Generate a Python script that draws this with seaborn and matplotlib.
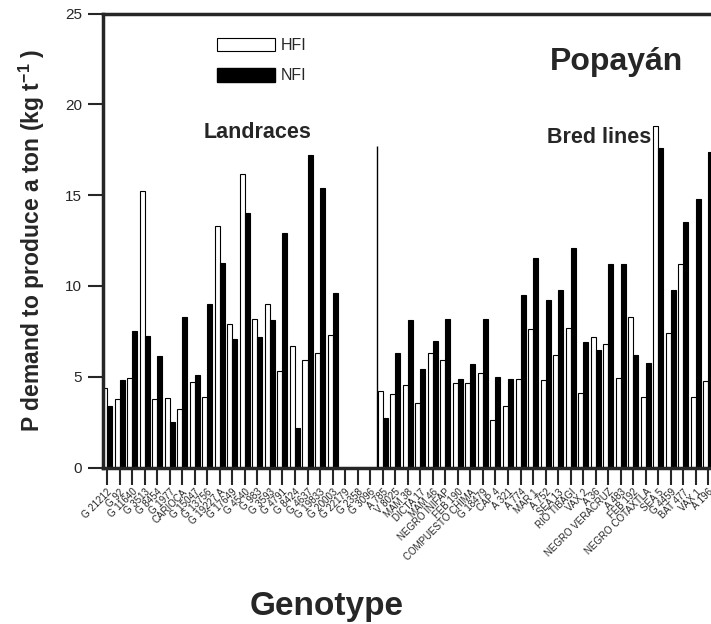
import matplotlib
matplotlib.use("Agg")
import matplotlib.pyplot as plt
from matplotlib.patches import Patch
import pandas as pd
import seaborn as sns

# genotype names, left block landraces, right block bred lines
genotypes = [
    "G 21212", "G 92", "G 11640", "G 3513", "G 8454", "G 1977", "CARIOCA",
    "G 15047", "G 13756", "G 19227 A", "G 17649", "G 4540", "G 983", "G 3593",
    "G 4791", "G 8424", "G 4637", "G 19833", "G 20003", "G 22179", "G 2358",
    "G 3096",
    "A 785", "V 8025", "MAM 38", "DICTA 17", "MAM 46", "NEGRO INIFAP",
    "FEB 190", "COMPUESTO CHIMA", "G 18479", "CAP 4", "A 321", "A 774",
    "MAR 1", "A 752", "SEA 13", "RIO TIBAGI", "VAX 2", "A 36",
    "NEGRO VERACRUZ", "A 483", "FEB 192", "NEGRO COTAXTLA", "SEA 5",
    "G 4459", "BAT 477", "VAX 1", "A 196",
]

hfi = [
    4.4, 3.75, 4.95, 15.2, 3.75, 3.8, 3.2, 4.7, 3.9, 13.3, 7.9, 16.15, 8.2,
    9.0, 5.3, 6.7, 5.9, 6.3, 7.3, 0, 0, 0,
    4.2, 4.05, 4.55, 3.55, 6.3, 5.9, 4.65, 4.65, 5.2, 2.6, 3.4, 4.9, 7.6,
    4.8, 6.2, 7.7, 4.1, 7.2, 6.8, 4.95, 8.3, 3.9, 18.8, 7.4, 11.2, 3.9, 4.75,
]

nfi = [
    3.4, 4.8, 7.5, 7.25, 6.15, 2.5, 8.3, 5.1, 9.0, 11.25, 7.1, 14.0, 7.2,
    8.1, 12.9, 2.2, 17.2, 15.4, 9.6, 0, 0, 0,
    2.7, 6.3, 8.1, 5.45, 6.95, 8.2, 4.9, 5.7, 8.2, 5.0, 4.9, 9.5, 11.55,
    9.2, 9.75, 12.1, 6.9, 6.45, 11.2, 11.2, 6.2, 5.75, 17.6, 9.75, 13.5,
    14.8, 17.4,
]

treatments = ["HFI", "NFI"]
divider_pos = 21.55
divider_top = 17.7

sns.set_theme(style="ticks")
plt.rcParams["font.family"] = ["Liberation Sans", "DejaVu Sans"]
plt.rcParams["mathtext.fontset"] = "custom"
plt.rcParams["mathtext.rm"] = "Liberation Sans"
plt.rcParams["mathtext.bf"] = "Liberation Sans:bold"

n = len(genotypes)
df = pd.DataFrame({
    "Genotype": genotypes * 2,
    "value": hfi + nfi,
    "treatment": ["HFI"] * n + ["NFI"] * n,
})

W, H = 711, 624
fig = plt.figure(figsize=(W / 100, H / 100), dpi=100)
ax = fig.add_axes([103 / W, 1 - 467.5 / H, 1 - 103 / W, 454 / H])

sns.barplot(
    data=df, x="Genotype", y="value", hue="treatment",
    order=genotypes, hue_order=treatments,
    palette={"HFI": "white", "NFI": "black"},
    edgecolor="black", linewidth=0.8, width=0.8, saturation=1,
    errorbar=None, legend=False, ax=ax,
)

# thin separator between landraces and bred lines
ax.vlines(divider_pos, 0, divider_top, color="black", lw=1.0)

ax.set_xlim(-0.32, 48.2)
ax.set_ylim(0, 25)
ax.set_yticks([0, 5, 10, 15, 20, 25])
ax.set_xlabel("")
ax.set_ylabel("P demand to produce a ton (kg t$^{\\mathbf{-1}}$ )",
              fontsize=16.5, fontweight="bold")
ax.yaxis.set_label_coords(-0.092, 0.5)

for side in ["top", "left", "bottom"]:
    ax.spines[side].set_linewidth(2.5)
ax.spines["right"].set_visible(False)

ax.tick_params(axis="y", length=11, width=1.5, labelsize=11, pad=4)
ax.tick_params(axis="x", length=12, width=1.5, labelsize=7, pad=2)
for lbl in ax.get_xticklabels():
    lbl.set_rotation(45)
    lbl.set_ha("right")
    lbl.set_rotation_mode("anchor")

handles = [Patch(facecolor="white", edgecolor="black", lw=0.8),
           Patch(facecolor="black", edgecolor="black")]
fig.legend(handles, treatments, loc="upper left",
           bbox_to_anchor=(217 / W, 1 - 38 / H), bbox_transform=fig.transFigure,
           frameon=False, borderpad=0, borderaxespad=0, handlelength=3.6,
           handleheight=0.9, labelspacing=0.95, handletextpad=0.4, fontsize=11.5)

fig.text(617 / W, 1 - 70 / H, "Popayán", fontsize=23, fontweight="bold",
         ha="center", va="baseline")
fig.text(258 / W, 1 - 138 / H, "Landraces", fontsize=15.5, fontweight="bold",
         ha="center", va="baseline")
fig.text(599 / W, 1 - 143 / H, "Bred lines", fontsize=15.5, fontweight="bold",
         ha="center", va="baseline")
fig.text(327 / W, 1 - 615 / H, "Genotype", fontsize=24, fontweight="bold",
         ha="center", va="baseline")

fig.savefig("out.png", dpi=100)
plt.close(fig)
